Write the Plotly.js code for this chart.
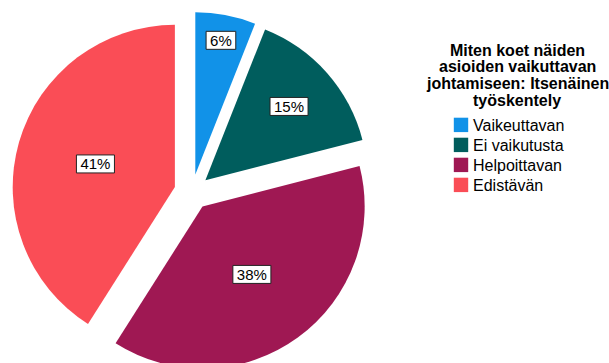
<!DOCTYPE html>
<html>
<head>
<meta charset="utf-8">
<script src="https://cdn.plot.ly/plotly-3.0.1.min.js"></script>
<style>
html, body { margin: 0; padding: 0; width: 609px; height: 363px; overflow: hidden; background: #fff; }
#wrap { width: 609px; height: 363px; overflow: hidden; }
</style>
</head>
<body>
<div id="wrap"><div id="chart"></div></div>
<script>
const categories = ["Vaikeuttavan", "Ei vaikutusta", "Helpoittavan", "Edistävän"];
const values = [6, 15, 38, 41];
const colors = ["#1192e8", "#005d5d", "#9f1853", "#fa4d56"];
const titleLines = ["Miten koet näiden", "asioiden vaikuttavan", "johtamiseen: Itsenäinen", "työskentely"];

const W = 609, H = 385;
const FONT = "Liberation Sans, Arial, sans-serif";

const annotations = titleLines.map((t, i) => ({
  text: "<b>" + t + "</b>",
  xref: "paper", yref: "paper",
  x: 517 / W, y: 1 - (50 + i * 17) / H,
  xanchor: "center", yanchor: "middle",
  showarrow: false,
  font: { family: FONT, size: 16, color: "#000" }
}));

const data = [{
  type: "pie",
  labels: categories,
  values: values,
  sort: false,
  direction: "clockwise",
  rotation: 0,
  pull: values.map(() => 0.11),
  marker: { colors: colors, line: { width: 0 } },
  texttemplate: "%{percent:.0%}",
  textposition: "inside",
  insidetextorientation: "horizontal",
  textfont: { family: FONT, size: 15, color: "#000" },
  hoverinfo: "none",
  domain: { x: [12 / W, 372 / W], y: [(H - 372) / H, (H - 12) / H] }
}];

const layout = {
  width: W, height: H,
  margin: { l: 0, r: 0, t: 0, b: 0 },
  paper_bgcolor: "#fff",
  showlegend: true,
  legend: {
    x: 433 / W, xanchor: "left",
    y: 1 - 108 / H, yanchor: "top",
    font: { family: FONT, size: 16, color: "#000" },
    traceorder: "normal",
    bgcolor: "rgba(0,0,0,0)"
  },
  annotations: annotations,
  font: { family: FONT }
};

function tweak() {
  const gd = document.getElementById("chart");
  gd.querySelectorAll("g.slicetext").forEach(g => {
    const t = g.querySelector("text");
    if (!t || g.querySelector("rect.lblbox")) return;
    const bb = t.getBBox();
    const ns = "http://www.w3.org/2000/svg";
    const r = document.createElementNS(ns, "rect");
    r.setAttribute("class", "lblbox");
    r.setAttribute("x", bb.x - 4);
    r.setAttribute("y", bb.y - 0.5);
    r.setAttribute("width", bb.width + 8);
    r.setAttribute("height", bb.height + 1);
    r.setAttribute("fill", "#fff");
    r.setAttribute("stroke", "#222");
    r.setAttribute("stroke-width", "1");
    const tr = t.getAttribute("transform");
    if (tr) r.setAttribute("transform", tr);
    g.insertBefore(r, t);
  });
  const items = gd.querySelectorAll(".legend g.traces");
  let y0 = null;
  items.forEach((it, i) => {
    const tr = it.getAttribute("transform") || "";
    const m = tr.match(/translate\(\s*([-\d.]+)[ ,]+([-\d.]+)\s*\)/);
    if (!m) return;
    if (y0 === null) y0 = parseFloat(m[2]);
    it.setAttribute("transform", "translate(" + m[1] + "," + (y0 + i * 20) + ")");
    const p = it.querySelector(".legendpoints path");
    if (p) p.setAttribute("transform", "translate(28,0) scale(1.2)");
  });
}

Plotly.newPlot("chart", data, layout, { staticPlot: true }).then(tweak);
</script>
</body>
</html>
